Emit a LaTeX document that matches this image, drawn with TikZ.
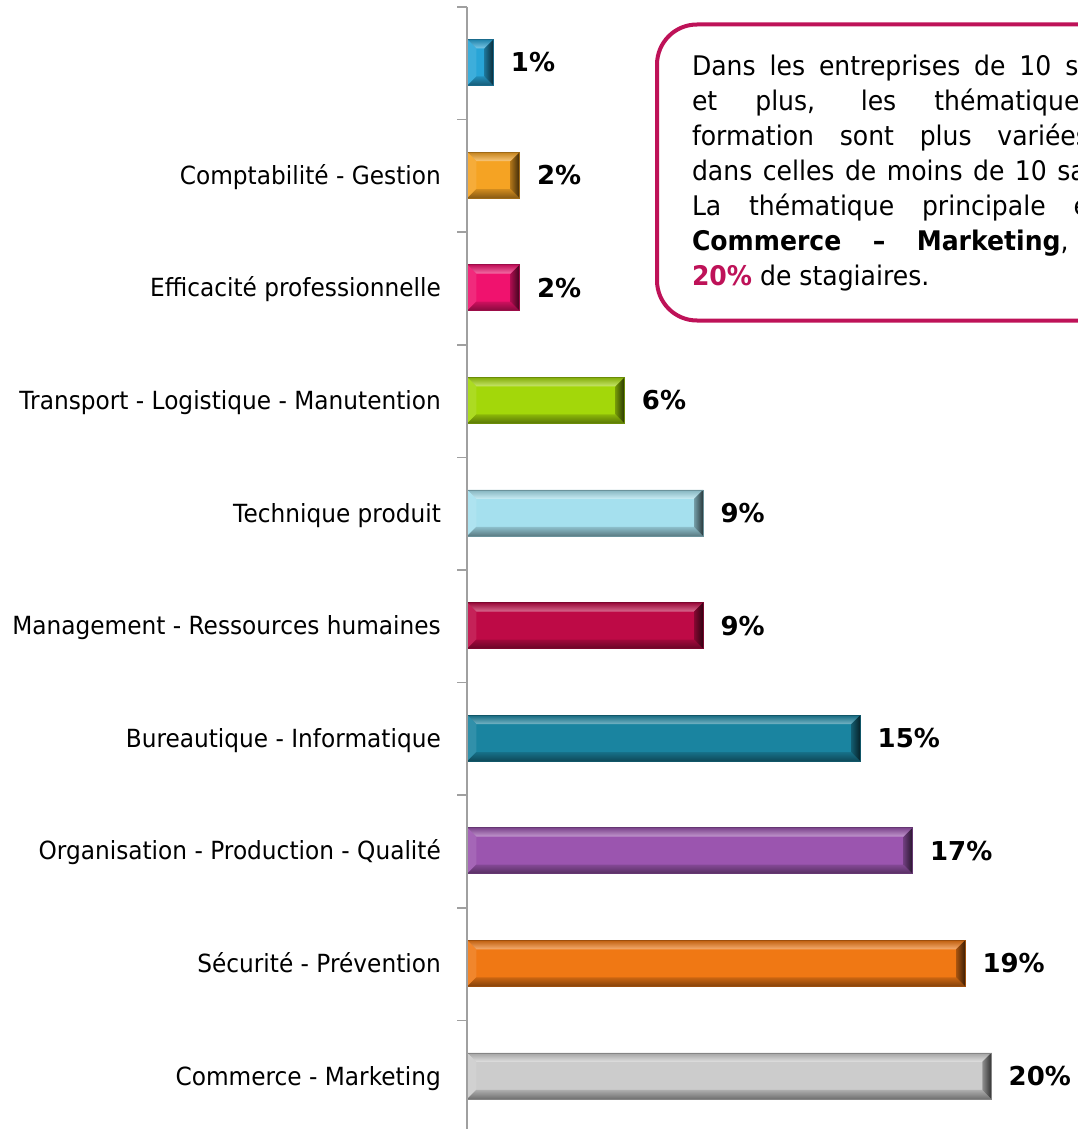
\documentclass[tikz,border=0pt]{standalone}
\usepackage{fontspec}
\setmainfont{DejaVu Sans}[FakeStretch=0.93]
\newfontfamily\pctfont{DejaVu Sans}
\usetikzlibrary{positioning,calc}
\definecolor{boxred}{RGB}{190,18,88}
\definecolor{axisgray}{RGB}{160,160,160}
\definecolor{barcyan}{RGB}{40,165,215}
\definecolor{bargold}{RGB}{245,163,35}
\definecolor{barpink}{RGB}{240,18,110}
\definecolor{bargreen}{RGB}{163,215,10}
\definecolor{barsky}{RGB}{165,224,238}
\definecolor{barcrimson}{RGB}{190,10,70}
\definecolor{barteal}{RGB}{26,132,160}
\definecolor{barpurple}{RGB}{155,85,175}
\definecolor{barorange}{RGB}{240,120,20}
\definecolor{bargray}{RGB}{204,204,204}

\begin{document}
\begin{tikzpicture}[x=1pt,y=-1pt,
    bar/.style={rectangle,inner sep=0pt,minimum height=46pt,anchor=west,
        fill=#1,draw=#1!65!black,line width=0.5pt,
        path picture={
            \coordinate (nw) at (path picture bounding box.north west);
            \coordinate (ne) at (path picture bounding box.north east);
            \coordinate (sw) at (path picture bounding box.south west);
            \coordinate (se) at (path picture bounding box.south east);
            \shade[top color=#1!80!black,bottom color=#1!60!white] (nw) -- (ne) -- ($(ne)+(-9pt,-9pt)$) -- ($(nw)+(9pt,-9pt)$) -- cycle;
            \fill[#1!90!white] (nw) -- (sw) -- ($(sw)+(9pt,9pt)$) -- ($(nw)+(9pt,-9pt)$) -- cycle;
            \shade[top color=#1!85!black,bottom color=#1!55!black] (sw) -- (se) -- ($(se)+(-9pt,9pt)$) -- ($(sw)+(9pt,9pt)$) -- cycle;
            \shade[left color=#1!70!black,right color=#1!25!black] (ne) -- (se) -- ($(se)+(-9pt,9pt)$) -- ($(ne)+(-9pt,-9pt)$) -- cycle;
        }},
    cat/.style={font=\fontsize{25}{30}\selectfont,inner sep=0pt,text height=18.2pt,text depth=0pt},
    pct/.style={font=\pctfont\bfseries\fontsize{26}{30}\selectfont,inner sep=0pt,text height=19pt,text depth=0pt},
    axis/.style={draw=axisgray,line width=1.5pt},
    callout/.style={draw=boxred,line width=4pt,rounded corners=40pt,fill=white,anchor=north west,
        text width=470pt,align=justify,inner xsep=35pt,inner ysep=0pt,minimum height=296pt,
        font=\fontsize{27}{35}\selectfont}]
    \useasboundingbox (0,0) rectangle (1078,1129);
    \clip (0,0) rectangle (1078,1129);

    \foreach \i/\v/\c/\t in {0/1/barcyan/{},
                             1/2/bargold/Comptabilité - Gestion,
                             2/2/barpink/Efficacité professionnelle,
                             3/6/bargreen/Transport - Logistique - Manutention,
                             4/9/barsky/Technique produit,
                             5/9/barcrimson/Management - Ressources humaines,
                             6/15/barteal/Bureautique - Informatique,
                             7/17/barpurple/Organisation - Production - Qualité,
                             8/19/barorange/Sécurité - Prévention,
                             9/20/bargray/Commerce - Marketing}{
        \node[bar=\c,minimum width=\v*26.2pt] (bar\i) at (467,{62.5+112.6*\i}) {};
        \node[cat,left=26pt of bar\i] (lab\i) {\t};
        \node[pct,right=17pt of bar\i] (pct\i) {\v\%};
    }

    \draw[axis] (467,7) -- (467,1135);
    \foreach \k in {0,...,10}{
        \draw[axis] (457,{7+112.6*\k}) -- (467,{7+112.6*\k});
    }

    \node[callout] (note) at (655,22.5) {\tolerance=10000\hbadness=10000
        Dans les entreprises de 10 salariés\linebreak
        et plus, les thématiques de\linebreak
        formation sont plus variées que\linebreak
        dans celles de moins de 10 salariés.\linebreak
        La thématique principale est le\linebreak
        \textbf{Commerce – Marketing}, avec\linebreak
        \textcolor{boxred}{\textbf{20\%}} de stagiaires.};
\end{tikzpicture}
\end{document}
